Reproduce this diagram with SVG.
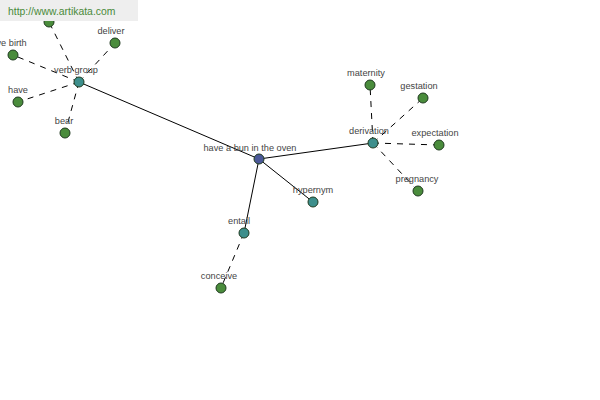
<svg xmlns="http://www.w3.org/2000/svg" width="600" height="400" viewBox="0 0 600 400">
<style>
.e{stroke:#000;stroke-width:1;fill:none}
.d{stroke-dasharray:6,6}
.n circle{stroke:#1f3a1f;stroke-width:1}
.leaf circle{fill:#4a8c3c}
.mid circle{fill:#3d8f8c}
.root circle{fill:#4b5898}
text{font-family:"Liberation Sans",Arial,sans-serif;font-size:9.2px;fill:#444;text-anchor:middle}
</style>
<rect width="600" height="400" fill="#fff"/>
<g id="connectors">
<line class="e" x1="259" y1="159" x2="79" y2="82"/>
<line class="e" x1="259" y1="159" x2="373" y2="143"/>
<line class="e" x1="259" y1="159" x2="313" y2="202"/>
<line class="e" x1="259" y1="159" x2="244" y2="233"/>
<line class="e d" x1="79" y1="82" x2="49" y2="22"/>
<line class="e d" x1="79" y1="82" x2="115" y2="43"/>
<line class="e d" x1="79" y1="82" x2="13" y2="55"/>
<line class="e d" x1="79" y1="82" x2="18" y2="102"/>
<line class="e d" x1="79" y1="82" x2="65" y2="133"/>
<line class="e d" x1="373" y1="143" x2="370" y2="85"/>
<line class="e d" x1="373" y1="143" x2="423" y2="98"/>
<line class="e d" x1="373" y1="143" x2="439" y2="145"/>
<line class="e d" x1="373" y1="143" x2="418" y2="191"/>
<line class="e d" x1="244" y1="233" x2="221" y2="288"/>
</g>
<g id="n-topleaf" class="n leaf"><circle cx="49" cy="22" r="5"/></g>
<g id="n-deliver" class="n leaf"><circle cx="115" cy="43" r="5"/><text x="111" y="34">deliver</text></g>
<g id="n-givebirth" class="n leaf"><circle cx="13" cy="55" r="5"/><text x="8" y="46">give birth</text></g>
<g id="n-have" class="n leaf"><circle cx="18" cy="102" r="5"/><text x="18" y="93">have</text></g>
<g id="n-bear" class="n leaf"><circle cx="65" cy="133" r="5"/><text x="64" y="124">bear</text></g>
<g id="n-verbgroup" class="n mid"><circle cx="79" cy="82" r="5"/><text x="76" y="73">verb group</text></g>
<g id="n-root" class="n root"><circle cx="259" cy="159" r="5"/><text x="250" y="151">have a bun in the oven</text></g>
<g id="n-derivation" class="n mid"><circle cx="373" cy="143" r="5"/><text x="369" y="134">derivation</text></g>
<g id="n-hypernym" class="n mid"><circle cx="313" cy="202" r="5"/><text x="313" y="193">hypernym</text></g>
<g id="n-entail" class="n mid"><circle cx="244" cy="233" r="5"/><text x="239" y="224">entail</text></g>
<g id="n-conceive" class="n leaf"><circle cx="221" cy="288" r="5"/><text x="219" y="279">conceive</text></g>
<g id="n-maternity" class="n leaf"><circle cx="370" cy="85" r="5"/><text x="366" y="76">maternity</text></g>
<g id="n-gestation" class="n leaf"><circle cx="423" cy="98" r="5"/><text x="419" y="89">gestation</text></g>
<g id="n-expectation" class="n leaf"><circle cx="439" cy="145" r="5"/><text x="435" y="136">expectation</text></g>
<g id="n-pregnancy" class="n leaf"><circle cx="418" cy="191" r="5"/><text x="417" y="182">pregnancy</text></g>
<g id="banner">
<rect x="0" y="0" width="138" height="21" fill="#eeeeee"/>
<text x="8" y="15" style="text-anchor:start;font-size:10.4px;fill:#4a8a3a">http://www.artikata.com</text>
</g>
</svg>
